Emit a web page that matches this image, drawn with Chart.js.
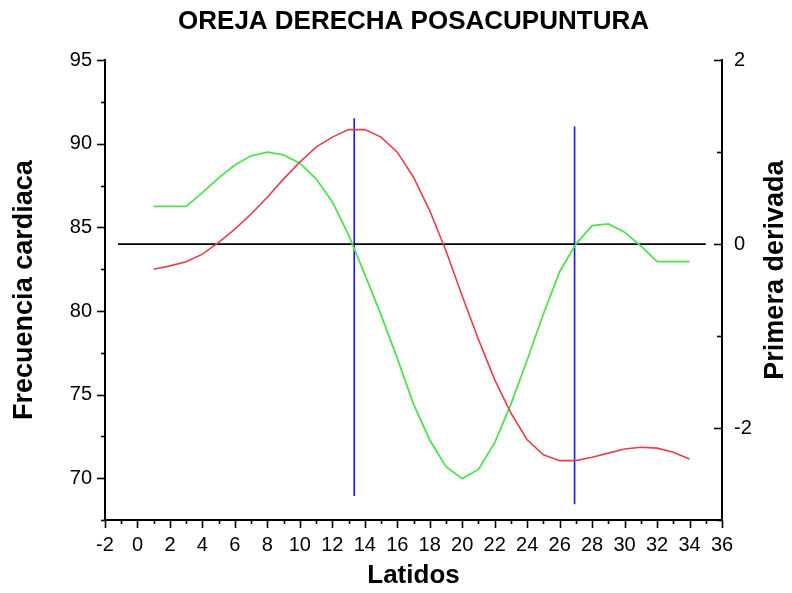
<!DOCTYPE html>
<html>
<head>
<meta charset="utf-8">
<title>Oreja derecha posacupuntura</title>
<script src="https://cdn.jsdelivr.net/npm/chart.js@4.4.1/dist/chart.umd.min.js"></script>
<style>
  html, body { margin: 0; padding: 0; background: #ffffff; }
  #wrap { width: 792px; height: 593px; }
</style>
</head>
<body>
<div id="wrap"><canvas id="hrChart" width="792" height="593"></canvas></div>
<script>
// Latidos (beat number)
const beats = [1, 2, 3, 4, 5, 6, 7, 8, 9, 10, 11, 12, 13, 14, 15, 16, 17,
               18, 19, 20, 21, 22, 23, 24, 25, 26, 27, 28, 29, 30, 31, 32, 33, 34];

// Frecuencia cardiaca (left axis)
const heartRate = [82.5, 82.7, 82.95, 83.4, 84.1, 84.9, 85.8, 86.8, 87.9, 88.9, 89.8, 90.4,
                   90.85, 90.85, 90.4, 89.5, 88.0, 86.0, 83.6, 80.9, 78.3, 75.9, 73.9, 72.3,
                   71.4, 71.05, 71.05, 71.25, 71.5, 71.75, 71.85, 71.8, 71.55, 71.15];

// Primera derivada (right axis)
const firstDerivative = [0.41, 0.41, 0.41, 0.56, 0.72, 0.86, 0.96, 1.0, 0.97, 0.88, 0.71, 0.46,
                         0.1, -0.33, -0.77, -1.24, -1.74, -2.13, -2.42, -2.55, -2.45, -2.16,
                         -1.74, -1.26, -0.76, -0.3, 0.0, 0.2, 0.22, 0.13, -0.02, -0.19, -0.19, -0.19];

// zero line of the derivative
const zeroLineX = [-1.2, 35];
const zeroLineY = [0, 0];

// vertical markers at the derivative zero crossings (right axis units)
const markerX = [13.35, 26.92];
const markerTop = [1.37, 1.28];
const markerBottom = [-2.74, -2.83];

// tick labels
const xTicks = [-2, 36, 2];     // min, max, step
const hrTicks = [67.5, 95, 5];
const derivTicks = [-3, 2, 2];

const FONT = "'Liberation Sans', Arial, sans-serif";

function pairs(xs, ys) {
  return xs.map((v, i) => ({ x: v, y: ys[i] }));
}

const markerSets = markerX.map((mx, i) => ({
  label: 'cruce ' + (i + 1),
  data: [{ x: mx, y: markerTop[i] }, { x: mx, y: markerBottom[i] }],
  yAxisID: 'y1',
  borderColor: '#1414f0',
  borderWidth: 1.6,
  pointRadius: 0
}));

// tick marks: majors and minors, outward on left/bottom, inward on the right
const axisTicks = {
  id: 'axisTicks',
  afterDraw(chart) {
    const { ctx, scales: { x, y, y1 } } = chart;
    ctx.save();
    ctx.strokeStyle = '#000';
    ctx.lineWidth = 1.6;
    const seg = (x0, y0, x2, y2) => {
      ctx.beginPath();
      ctx.moveTo(x0, y0);
      ctx.lineTo(x2, y2);
      ctx.stroke();
    };
    for (let v = xTicks[0]; v <= xTicks[1]; v += 1) {
      const px = Math.round(x.getPixelForValue(v)) + 0.5;
      seg(px, x.top, px, x.top + (v % 2 === 0 ? 8 : 4));
    }
    for (let v = hrTicks[0]; v <= hrTicks[1]; v += 2.5) {
      const py = Math.round(y.getPixelForValue(v)) + 0.5;
      seg(y.right, py, y.right - (v % 5 === 0 ? 8 : 4), py);
    }
    for (let v = derivTicks[0]; v <= derivTicks[1]; v += 1) {
      const py = Math.round(y1.getPixelForValue(v)) + 0.5;
      seg(y1.left, py, y1.left - (v % 2 === 0 ? 8 : 5), py);
    }

    // right axis title, read bottom to top
    ctx.fillStyle = '#000';
    ctx.font = 'bold 27px ' + FONT;
    ctx.textAlign = 'center';
    ctx.textBaseline = 'middle';
    ctx.translate(776, (chart.chartArea.top + chart.chartArea.bottom) / 2 - 20);
    ctx.rotate(-Math.PI / 2);
    ctx.fillText('Primera derivada', 0, 0);
    ctx.restore();
  }
};

const ctx = document.getElementById('hrChart').getContext('2d');
const hrChart = new Chart(ctx, {
  type: 'line',
  data: {
    datasets: [
      {
        label: 'Frecuencia cardiaca',
        data: pairs(beats, heartRate),
        yAxisID: 'y',
        borderColor: '#e4404a',
        borderWidth: 1.6,
        pointRadius: 0,
        tension: 0
      },
      {
        label: 'Primera derivada',
        data: pairs(beats, firstDerivative),
        yAxisID: 'y1',
        borderColor: '#52e052',
        borderWidth: 1.8,
        pointRadius: 0,
        tension: 0
      },
      {
        label: 'cero',
        data: pairs(zeroLineX, zeroLineY),
        yAxisID: 'y1',
        borderColor: '#000000',
        borderWidth: 1.6,
        pointRadius: 0
      },
      ...markerSets
    ]
  },
  options: {
    responsive: false,
    animation: false,
    layout: { padding: 0 },
    plugins: {
      legend: { display: false },
      tooltip: { enabled: false },
      title: {
        display: true,
        text: 'OREJA DERECHA POSACUPUNTURA',
        fullSize: false,
        color: '#000',
        font: { family: FONT, size: 26, weight: 'bold' },
        padding: { top: 6, bottom: 23 }
      }
    },
    scales: {
      x: {
        type: 'linear',
        min: xTicks[0],
        max: xTicks[1],
        grid: { display: false, drawTicks: false },
        border: { display: true, color: '#000', width: 2 },
        ticks: {
          stepSize: xTicks[2],
          includeBounds: false,
          color: '#000',
          padding: 13,
          maxRotation: 0,
          autoSkip: false,
          font: { family: FONT, size: 20 }
        },
        title: {
          display: true,
          text: 'Latidos',
          color: '#000',
          font: { family: FONT, size: 26, weight: 'bold' },
          padding: { top: 0, bottom: 2 }
        },
        afterFit(scale) { scale.height = 73; }
      },
      y: {
        type: 'linear',
        position: 'left',
        min: hrTicks[0],
        max: hrTicks[1],
        grid: { display: false, drawTicks: false },
        border: { display: true, color: '#000', width: 2 },
        ticks: {
          stepSize: hrTicks[2],
          includeBounds: false,
          color: '#000',
          padding: 13,
          font: { family: FONT, size: 20 }
        },
        title: {
          display: true,
          text: 'Frecuencia cardiaca',
          color: '#000',
          font: { family: FONT, size: 27, weight: 'bold' },
          padding: { top: 8, bottom: 0 }
        },
        afterFit(scale) { scale.width = 105; }
      },
      y1: {
        type: 'linear',
        position: 'right',
        min: derivTicks[0],
        max: derivTicks[1],
        grid: { display: false, drawTicks: false },
        border: { display: true, color: '#000', width: 2 },
        ticks: {
          stepSize: derivTicks[2],
          includeBounds: false,
          color: '#000',
          padding: 12,
          font: { family: FONT, size: 20 }
        },
        afterFit(scale) { scale.width = 70; }
      }
    }
  },
  plugins: [axisTicks]
});
</script>
</body>
</html>
